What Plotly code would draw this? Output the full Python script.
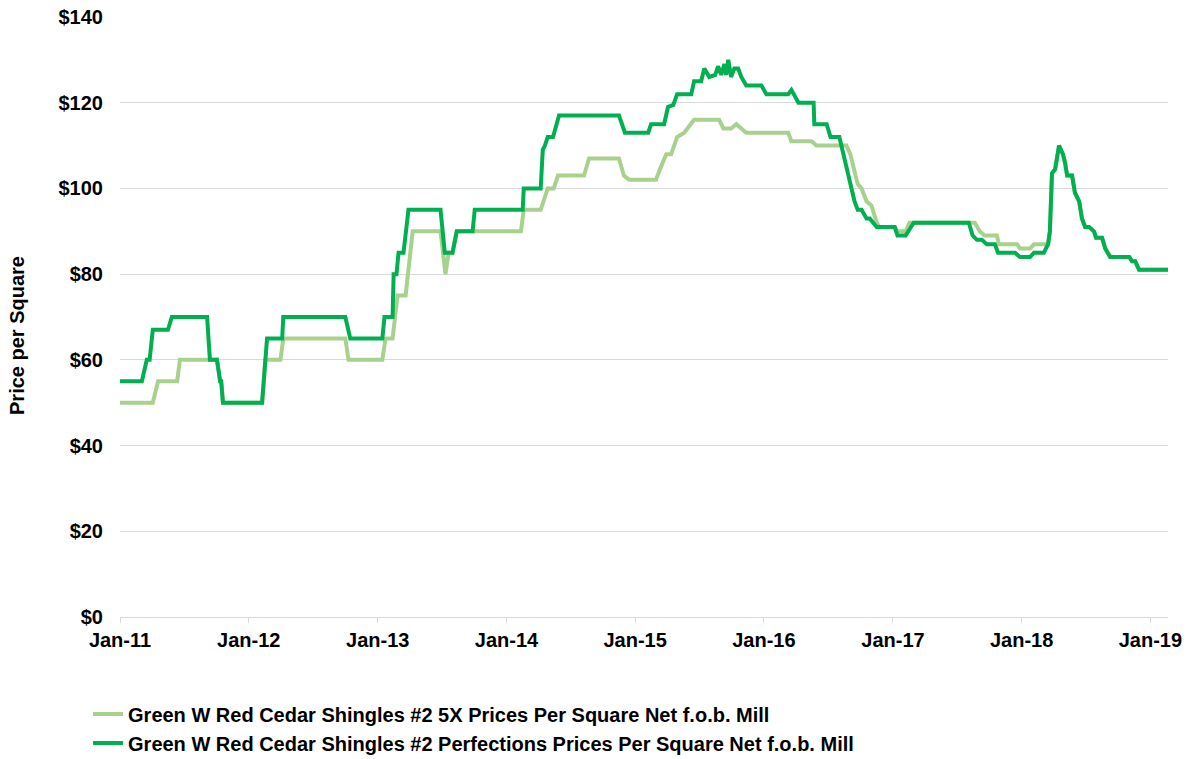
import plotly.graph_objects as go

# Green W Red Cedar Shingles #2 Perfections (dark green)
perf_dates = [
    "2011-01-01", "2011-03-04", "2011-03-18", "2011-03-26", "2011-04-04", "2011-05-17", "2011-05-28",
    "2011-09-05", "2011-09-13", "2011-10-03", "2011-10-12", "2011-10-15", "2011-10-20",
    "2012-02-08", "2012-02-22", "2012-04-05", "2012-04-08", "2012-10-01", "2012-10-15",
    "2013-01-14", "2013-01-20", "2013-02-12", "2013-02-15", "2013-02-23", "2013-03-01", "2013-03-15",
    "2013-03-29", "2013-06-28", "2013-07-10", "2013-08-01", "2013-08-13", "2013-09-27", "2013-10-03",
    "2014-02-16", "2014-02-19", "2014-04-08", "2014-04-14", "2014-04-20", "2014-04-28", "2014-05-13",
    "2014-05-30", "2014-11-16", "2014-12-03",
    "2015-02-07", "2015-02-15", "2015-03-24", "2015-04-04", "2015-04-19", "2015-04-30", "2015-06-09",
    "2015-06-17", "2015-07-07", "2015-07-16", "2015-07-30", "2015-08-16", "2015-08-24", "2015-09-02",
    "2015-09-11", "2015-09-16", "2015-09-22", "2015-09-30", "2015-10-09", "2015-10-20", "2015-10-29",
    "2015-11-12", "2015-12-25",
    "2016-01-08", "2016-03-10", "2016-03-19", "2016-04-08", "2016-05-21", "2016-05-23", "2016-06-27",
    "2016-07-08", "2016-08-02", "2016-08-14", "2016-09-06", "2016-09-14", "2016-09-23", "2016-10-04",
    "2016-10-18", "2016-10-27", "2016-11-16",
    "2017-01-06", "2017-01-14", "2017-02-06", "2017-03-01", "2017-08-04", "2017-08-15", "2017-08-27",
    "2017-09-10", "2017-09-24", "2017-10-17", "2017-10-26", "2017-12-13", "2017-12-27",
    "2018-01-25", "2018-02-05", "2018-03-05", "2018-03-17", "2018-03-22", "2018-03-28", "2018-04-06",
    "2018-04-17", "2018-04-28", "2018-05-04", "2018-05-10", "2018-05-24", "2018-06-01", "2018-06-13",
    "2018-06-21", "2018-06-30", "2018-07-11", "2018-07-25", "2018-07-31", "2018-08-17", "2018-08-26",
    "2018-09-09", "2018-11-02", "2018-11-10", "2018-11-19", "2018-11-30", "2019-02-20",
]
perf_values = [
    55, 55, 60, 60, 67, 67, 70,
    70, 60, 60, 55, 55, 50,
    50, 65, 65, 70, 70, 65,
    65, 70, 70, 80, 80, 85, 85,
    95, 95, 85, 85, 90, 90, 95,
    95, 100, 100, 109, 110, 112, 112,
    117, 117, 113,
    113, 115, 115, 119, 119.5, 122, 122,
    125, 125, 128, 126, 126.5, 128.5, 126.5,
    129, 126.5, 130, 126, 128, 128, 126,
    124, 124,
    122, 122, 123, 120, 120, 115, 115,
    112, 112, 108, 100, 97, 95, 95,
    93, 93, 91,
    91, 89, 89, 92, 92, 89, 88,
    88, 87, 87, 85, 85, 84,
    84, 85, 85, 87, 90, 103.5, 104.5,
    110, 108, 106, 103, 103, 99, 97,
    93, 91, 91, 90, 88.5, 88.5, 86,
    84, 84, 83, 83, 81, 81,
]

# Green W Red Cedar Shingles #2 5X (light green)
fivex_dates = [
    "2011-01-01", "2011-04-04", "2011-04-19", "2011-06-12", "2011-06-20", "2011-09-13", "2011-10-03",
    "2011-10-12", "2011-10-15", "2011-10-20",
    "2012-02-08", "2012-02-17", "2012-03-31", "2012-04-08", "2012-10-01", "2012-10-10",
    "2013-01-14", "2013-01-23", "2013-02-12", "2013-02-26", "2013-03-21", "2013-04-10", "2013-06-28",
    "2013-07-12", "2013-07-21", "2013-08-01", "2013-08-13",
    "2014-02-11", "2014-02-19", "2014-04-08", "2014-04-17", "2014-04-28", "2014-05-15", "2014-05-27",
    "2014-08-09", "2014-08-23", "2014-11-16", "2014-11-30", "2014-12-15",
    "2015-03-01", "2015-03-10", "2015-03-30", "2015-04-13", "2015-04-30", "2015-05-20", "2015-06-17",
    "2015-08-27", "2015-09-08", "2015-09-30", "2015-10-15", "2015-10-29", "2015-11-12",
    "2016-03-10", "2016-03-19", "2016-05-15", "2016-05-29", "2016-08-22", "2016-09-02", "2016-09-23",
    "2016-10-04", "2016-10-18", "2016-11-01", "2016-11-16", "2016-11-24",
    "2017-01-06", "2017-01-14", "2017-02-06", "2017-02-17", "2017-08-21", "2017-09-04", "2017-09-18",
    "2017-10-23", "2017-10-28", "2017-12-19", "2017-12-27",
    "2018-01-25", "2018-02-05", "2018-03-05", "2018-03-17", "2018-03-22", "2018-03-28", "2018-04-06",
    "2018-04-17", "2018-04-28", "2018-05-04", "2018-05-10", "2018-05-24", "2018-06-01", "2018-06-13",
    "2018-06-21", "2018-06-30", "2018-07-11", "2018-07-25", "2018-07-31", "2018-08-17", "2018-08-26",
    "2018-09-09", "2018-11-02", "2018-11-10", "2018-11-19", "2018-11-30", "2019-02-20",
]
fivex_values = [
    50, 50, 55, 55, 60, 60, 60,
    55, 55, 50,
    50, 60, 60, 65, 65, 60,
    60, 65, 65, 75, 75, 90, 90,
    80, 85, 85, 90,
    90, 95, 95, 97, 100, 100, 103,
    103, 107, 107, 103, 102,
    102, 104, 108, 108, 112, 113, 116,
    116, 114, 114, 115, 114, 113,
    113, 111, 111, 110, 110, 108, 101,
    100, 97, 96, 92, 91,
    91, 90, 90, 92, 92, 90, 89,
    89, 87, 87, 86,
    86, 87, 87, 87, 90, 103.5, 104.5,
    110, 108, 106, 103, 103, 99, 97,
    93, 91, 91, 90, 88.5, 88.5, 86,
    84, 84, 83, 83, 81, 81,
]

y_ticks = [0, 20, 40, 60, 80, 100, 120, 140]
y_tick_labels = ["$0", "$20", "$40", "$60", "$80", "$100", "$120", "$140"]
y_title = "Price per Square"

name_5x = "Green W Red Cedar Shingles #2 5X Prices Per Square Net f.o.b. Mill"
name_perf = "Green W Red Cedar Shingles #2 Perfections Prices Per Square Net f.o.b. Mill"

fig = go.Figure()
fig.add_trace(go.Scatter(x=fivex_dates, y=fivex_values, mode="lines", name=name_5x,
                         line=dict(color="#a9d18e", width=4)))
fig.add_trace(go.Scatter(x=perf_dates, y=perf_values, mode="lines", name=name_perf,
                         line=dict(color="#00b050", width=4)))

font_family = "Liberation Sans, Arial, sans-serif"
fig.update_layout(
    width=1190, height=759,
    margin=dict(l=120, r=22, t=17, b=142, autoexpand=False),
    plot_bgcolor="white", paper_bgcolor="white",
    font=dict(family=font_family, size=20, color="black", weight="bold"),
    showlegend=True,
    legend=dict(orientation="v", x=-0.0305, y=-0.129, xanchor="left", yanchor="top",
                font=dict(size=20, family=font_family, color="black", weight="bold"),
                bgcolor="rgba(0,0,0,0)", itemwidth=30),
    xaxis=dict(
        type="date", range=["2011-01-01", "2019-02-20"],
        tick0="2011-01-01", dtick="M12", tickformat="%b-%y",
        showgrid=False, showline=True, linecolor="#d9d9d9", linewidth=1,
        ticks="outside", ticklen=5, tickcolor="#d9d9d9", tickwidth=1,
        ticklabelstandoff=0,
        tickfont=dict(size=20, weight="bold"), zeroline=False, automargin=False,
    ),
    yaxis=dict(
        range=[0, 140], tickvals=y_ticks, ticktext=y_tick_labels,
        showgrid=True, gridcolor="#d9d9d9", gridwidth=1,
        zeroline=False, showline=False, ticks="",
        ticklabelstandoff=16, automargin=False,
        tickfont=dict(size=20, weight="bold"),
    ),
    annotations=[dict(
        text=y_title, textangle=-90, xref="paper", yref="paper",
        x=-0.0983, y=0.47, xanchor="center", yanchor="middle", showarrow=False,
        font=dict(size=20, family=font_family, color="black", weight="bold"),
    )],
)

fig.write_html("out.html", config={"displayModeBar": False},
               post_script="document.body.style.margin='0';")
